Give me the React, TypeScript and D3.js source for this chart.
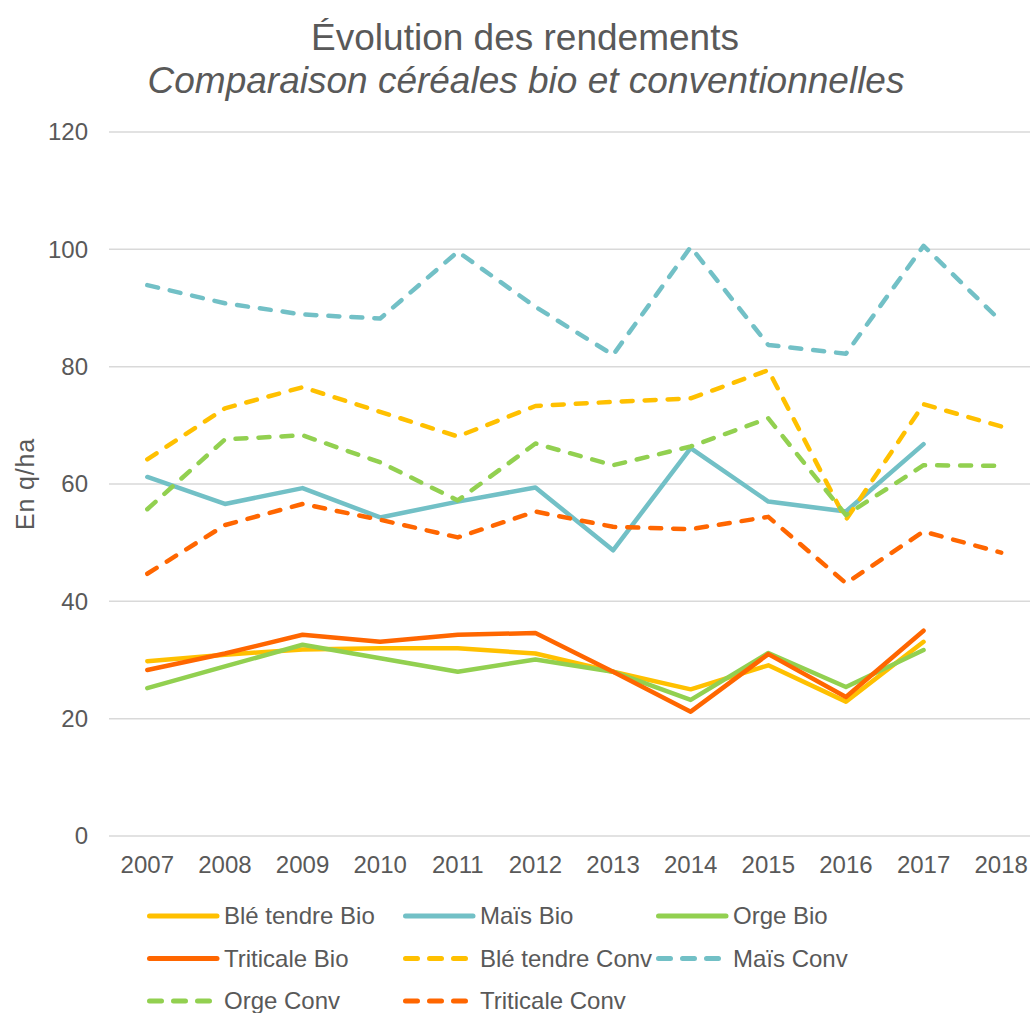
import React from 'react';
import * as d3 from 'd3';

const years = ['2007', '2008', '2009', '2010', '2011', '2012', '2013', '2014', '2015', '2016', '2017', '2018'];
const yTicks = [0, 20, 40, 60, 80, 100, 120];

const bleBio = [29.8, 30.9, 31.8, 32.0, 32.0, 31.1, 28.0, 25.0, 29.1, 22.9, 33.1, null];
const maisBio = [61.2, 56.6, 59.3, 54.3, 57.0, 59.4, 48.7, 66.1, 57.0, 55.3, 66.8, null];
const orgeBio = [25.2, 28.9, 32.6, 30.3, 28.0, 30.1, 28.0, 23.2, 31.2, 25.4, 31.7, null];
const triticaleBio = [28.3, 31.1, 34.3, 33.1, 34.3, 34.6, 28.0, 21.2, 31.0, 23.7, 35.0, null];
const bleConv = [64.2, 72.9, 76.5, 72.3, 68.1, 73.3, 74.0, 74.6, 79.4, 53.9, 73.6, 69.8];
const maisConv = [93.9, 90.8, 88.9, 88.2, 99.6, 90.2, 82.0, 100.4, 83.7, 82.2, 100.6, 87.7];
const orgeConv = [55.7, 67.6, 68.3, 63.7, 57.2, 66.9, 63.2, 66.4, 71.2, 54.7, 63.2, 63.1];
const triticaleConv = [44.7, 53.0, 56.6, 53.9, 50.9, 55.3, 52.7, 52.3, 54.4, 43.1, 51.9, 48.3];

const YELLOW = '#FFC000';
const TEAL = '#72C0C6';
const GREEN = '#92D050';
const ORANGE = '#FF6600';
const TEXT = '#595959';

const series = [
  { name: 'Blé tendre Bio', values: bleBio, color: YELLOW, dashed: false },
  { name: 'Maïs Bio', values: maisBio, color: TEAL, dashed: false },
  { name: 'Orge Bio', values: orgeBio, color: GREEN, dashed: false },
  { name: 'Triticale Bio', values: triticaleBio, color: ORANGE, dashed: false },
  { name: 'Blé tendre Conv', values: bleConv, color: YELLOW, dashed: true },
  { name: 'Maïs Conv', values: maisConv, color: TEAL, dashed: true },
  { name: 'Orge Conv', values: orgeConv, color: GREEN, dashed: true },
  { name: 'Triticale Conv', values: triticaleConv, color: ORANGE, dashed: true },
];

const FONT = '"Liberation Sans", Arial, sans-serif';

export default function App() {
  const W = 1030;
  const H = 1013;
  const x = d3.scalePoint<string>().domain(years).range([147.3, 1001.2]);
  const y = d3.scaleLinear().domain([0, 120]).range([836, 132]);
  const gridX0 = 109;
  const gridX1 = 1030;

  const line = d3
    .line<number | null>()
    .defined((d) => d !== null)
    .x((_, i) => x(years[i]) as number)
    .y((d) => y(d as number));

  const legendCols = [147, 403, 656];
  const legendRows = [916, 958.5, 1001];

  return (
    <svg
      width={W}
      height={H}
      style={{ position: 'absolute', left: 0, top: 0, background: '#fff' }}
      fontFamily={FONT}
    >
      <rect x={0} y={0} width={W} height={H} fill="#fff" />
      <text x={525} y={50} textAnchor="middle" fontSize={37} fill={TEXT}>
        Évolution des rendements
      </text>
      <text x={526} y={93} textAnchor="middle" fontSize={37} fontStyle="italic" fill={TEXT}>
        Comparaison céréales bio et conventionnelles
      </text>

      {yTicks.map((t) => (
        <g key={t}>
          <line x1={gridX0} x2={gridX1} y1={y(t)} y2={y(t)} stroke="#D9D9D9" strokeWidth={1.5} />
          <text x={88} y={y(t)} dy="0.35em" textAnchor="end" fontSize={24} fill={TEXT}>
            {t}
          </text>
        </g>
      ))}

      <text
        transform={`translate(34,${y(60)}) rotate(-90)`}
        textAnchor="middle"
        fontSize={25}
        fill={TEXT}
        letterSpacing={0.8}
      >
        En q/ha
      </text>

      {years.map((yr) => (
        <text key={yr} x={x(yr)} y={873} textAnchor="middle" fontSize={24} fill={TEXT}>
          {yr}
        </text>
      ))}

      {series.map((s) => (
        <path
          key={s.name}
          d={line(s.values) || ''}
          fill="none"
          stroke={s.color}
          strokeWidth={4.5}
          strokeLinejoin="round"
          strokeLinecap="round"
          strokeDasharray={s.dashed ? '11 12' : undefined}
        />
      ))}

      {series.map((s, i) => {
        const cx = legendCols[i % 3];
        const cy = legendRows[Math.floor(i / 3)];
        return (
          <g key={'lg' + s.name}>
            <line
              x1={cx + 2.5}
              x2={cx + 70}
              y1={cy}
              y2={cy}
              stroke={s.color}
              strokeWidth={5}
              strokeLinecap="round"
              strokeDasharray={s.dashed ? '12 12' : undefined}
            />
            <text x={cx + 77} y={cy} dy="0.35em" fontSize={24} fill={TEXT}>
              {s.name}
            </text>
          </g>
        );
      })}
    </svg>
  );
}
